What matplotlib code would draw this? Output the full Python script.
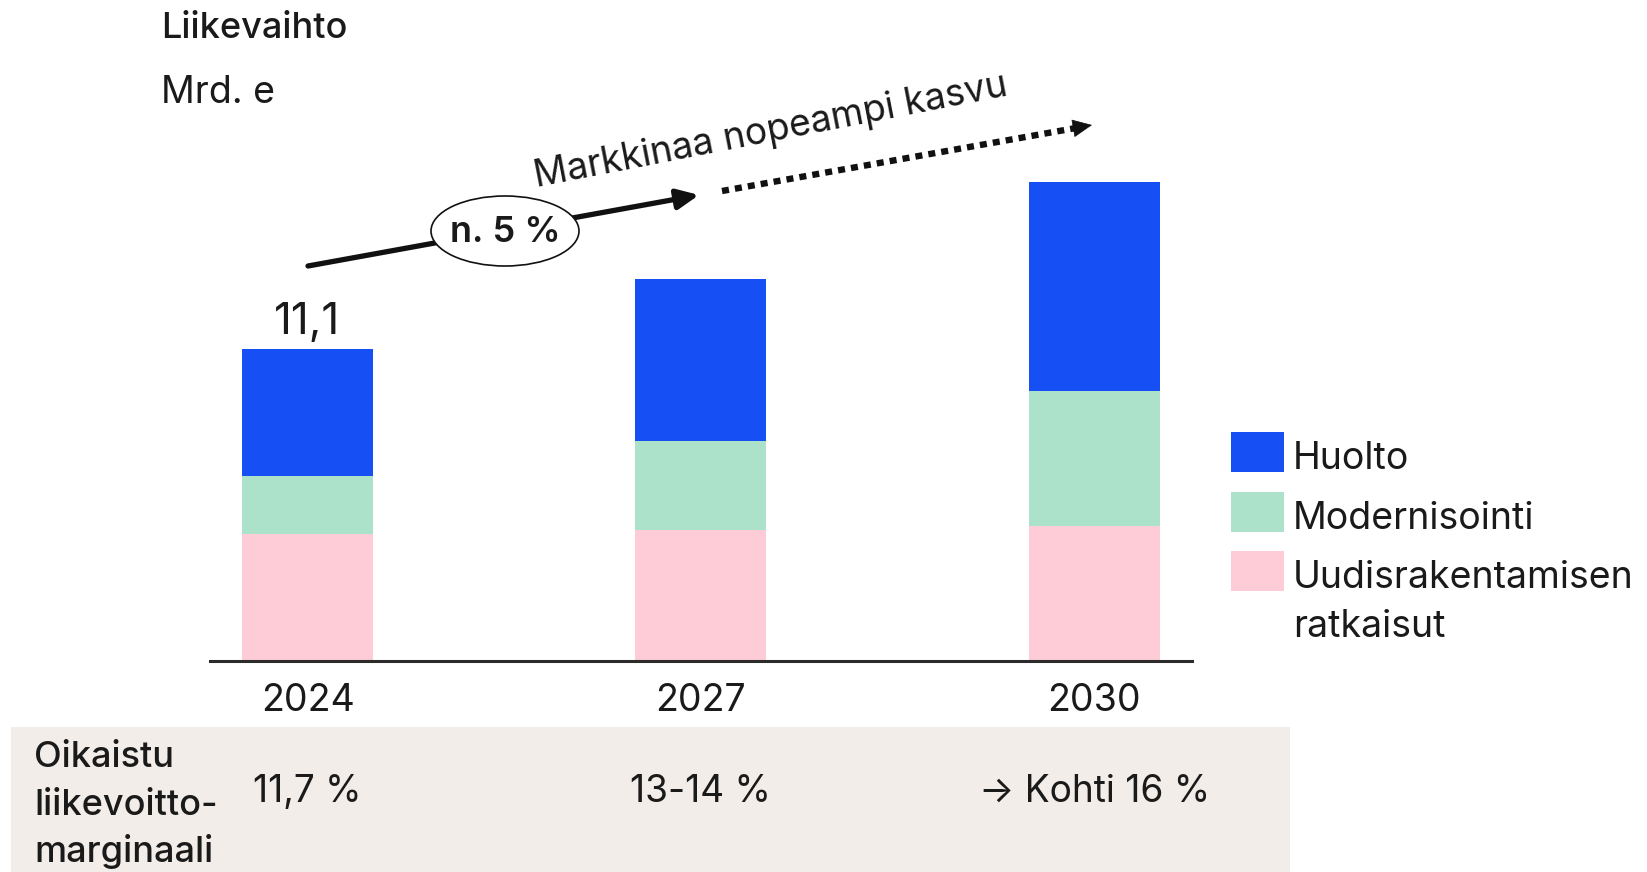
import matplotlib
matplotlib.use("Agg")
import matplotlib.pyplot as plt
import matplotlib.transforms as mtransforms
from matplotlib.patches import Ellipse, Rectangle, FancyArrowPatch
from matplotlib.lines import Line2D
import numpy as np

# ---------------- data ----------------
years = ["2024", "2027", "2030"]
uudisrakentaminen = [4.51, 4.67, 4.81]
modernisointi = [2.09, 3.17, 4.81]
huolto = [4.50, 5.76, 7.43]
series_names = ["Huolto", "Modernisointi", "Uudisrakentamisen\nratkaisut"]
total_label = "11,1"
margin_title = ["Oikaistu", "liikevoitto-", "marginaali"]
margin_labels = ["11,7 %", "13-14 %", "\u2192 Kohti 16 %"]
growth_label = "n. 5 %"
growth_text = "Markkinaa nopeampi kasvu"
title = "Liikevaihto"
unit = "Mrd. e"

# ---------------- style ----------------
BLUE = "#1650F5"
GREEN = "#ACE1CA"
PINK = "#FECCD7"
TXT = "#1a1a1a"
TABLE_BG = "#F2EDE9"

plt.rcParams['font.family'] = ['Inter', 'DejaVu Sans']

W, H = 1647, 872
fig = plt.figure(figsize=(W / 100, H / 100), dpi=100)
fig.patch.set_facecolor("white")


def fx(x):
    return x / W


def fy(y):
    return 1 - y / H


# table background
fig.add_artist(Rectangle((fx(11), fy(872)), fx(1290) - fx(11), fy(727) - fy(872),
                         transform=fig.transFigure, facecolor=TABLE_BG,
                         edgecolor="none", zorder=0))

ax = fig.add_axes([fx(210), fy(661), fx(1192) - fx(210), fy(0) - fy(661)])
ax.set_facecolor("none")
x = np.arange(len(years))
bw = 0.333
b1 = np.array(uudisrakentaminen)
b2 = b1 + np.array(modernisointi)
ax.bar(x, uudisrakentaminen, bw, color=PINK, zorder=2)
ax.bar(x, modernisointi, bw, bottom=b1, color=GREEN, zorder=2)
ax.bar(x, huolto, bw, bottom=b2, color=BLUE, zorder=2)
ax.set_xlim(-0.248, 2.249)
ax.set_ylim(0, 661 / 28.1)
for s in ["top", "left", "right"]:
    ax.spines[s].set_visible(False)
ax.spines["bottom"].set_linewidth(2.2)
ax.spines["bottom"].set_color("#2b2b2b")
ax.set_xticks([])
ax.set_yticks([])

# total label above 2024 bar
totals = b2 + np.array(huolto)
ax.annotate(total_label, (x[0], totals[0]), xytext=(0, 10.8), textcoords="offset points",
            ha="center", va="baseline", fontsize=31.5, color=TXT)

# year labels and margins (x in data, y in figure)
blend = mtransforms.blended_transform_factory(ax.transData, fig.transFigure)
for i, yr in enumerate(years):
    ax.text(x[i], fy(711), yr, transform=blend, ha="center", va="baseline",
            fontsize=27, color=TXT)
    ax.text(x[i], fy(802), margin_labels[i], transform=blend, ha="center",
            va="baseline", fontsize=26.7, color=TXT)

for j, line in enumerate(margin_title):
    fig.text(fx(34), fy(767 + 47.5 * j), line, ha="left", va="baseline",
             fontsize=26, color=TXT, fontweight="medium")

# titles
fig.text(fx(161), fy(38), title, ha="left", va="baseline", fontsize=26,
         fontweight="medium", color=TXT)
fig.text(fx(161), fy(103), unit, ha="left", va="baseline", fontsize=27, color=TXT)

# legend (manual)
leg_colors = [BLUE, GREEN, PINK]
leg_rows = [432, 492, 551]
for c, top, name in zip(leg_colors, leg_rows, series_names):
    fig.add_artist(Rectangle((fx(1231), fy(top + 40)), fx(1284) - fx(1231), fy(top) - fy(top + 40),
                             transform=fig.transFigure, facecolor=c, edgecolor="none"))
    for k, ln in enumerate(name.split("\n")):
        fig.text(fx(1293), fy(top + 37 + 48.5 * k), ln, ha="left", va="baseline",
                 fontsize=27, color=TXT)

# growth arrow (solid)
arr = FancyArrowPatch((fx(308), fy(266)), (fx(699), fy(195)), transform=fig.transFigure,
                      arrowstyle="-|>,head_length=0.65,head_width=0.3", mutation_scale=20,
                      lw=3.8, color="#111111", shrinkA=0, shrinkB=0, zorder=3)
fig.add_artist(arr)
ell = Ellipse((fx(505), fy(231)), 148 / W, 70 / H, transform=fig.transFigure,
              facecolor="white", edgecolor="#111111", lw=1.2, zorder=4)
fig.add_artist(ell)
fig.text(fx(505), fy(232), growth_label, ha="center", va="center", fontsize=26,
         fontweight="semibold", color=TXT, zorder=5)

# dotted arrow
fig.add_artist(Line2D([fx(722), fx(1076)], [fy(191), fy(128)], transform=fig.transFigure,
                      lw=4.6, color="#111111", dashes=(1.1, 0.95), dash_capstyle="butt"))
head = FancyArrowPatch((fx(1074), fy(128.2)), (fx(1092), fy(125)), transform=fig.transFigure,
                       arrowstyle="-|>,head_length=0.65,head_width=0.3", mutation_scale=20,
                       lw=0.5, color="#111111", shrinkA=0, shrinkB=0)
fig.add_artist(head)

fig.text(fx(771), fy(131), growth_text, ha="center", va="center", rotation=11,
         rotation_mode="anchor", fontsize=26.8, color=TXT)

fig.savefig("out.png", dpi=100)
